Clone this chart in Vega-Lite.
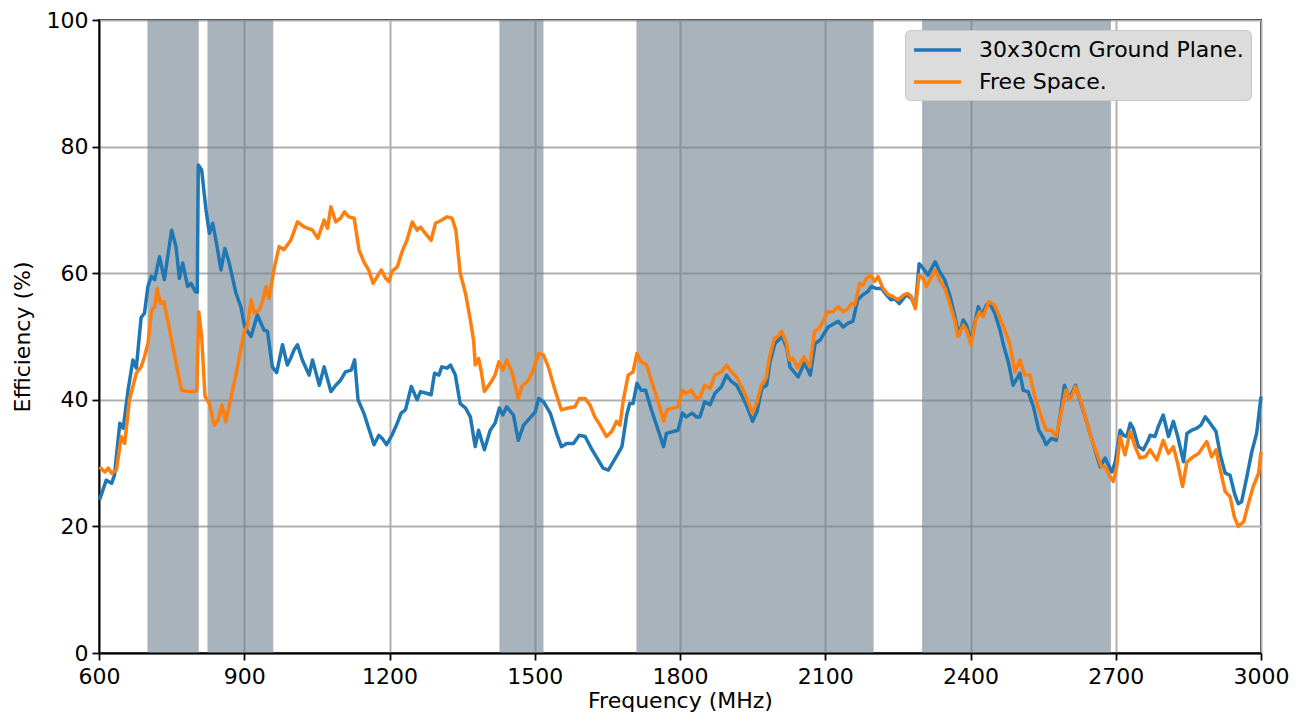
{
  "$schema": "https://vega.github.io/schema/vega-lite/v6.json",
  "width": 1162,
  "height": 633,
  "autosize": {"type": "none"},
  "padding": {"left": 99, "top": 20, "right": 38, "bottom": 69},
  "background": "white",
  "config": {
    "font": "DejaVu Sans",
    "view": {"stroke": "black", "strokeWidth": 1.8},
    "axis": {
      "labelFont": "DejaVu Sans", "labelFontSize": 22, "labelColor": "black", "labelFlush": false, "format": "d",
      "titleFont": "DejaVu Sans", "titleFontSize": 22, "titleFontWeight": "normal", "titleColor": "black",
      "tickColor": "black", "tickSize": 7, "tickWidth": 1.8,
      "domainColor": "black", "domainWidth": 1.8,
      "gridColor": "#b0b0b0", "gridWidth": 2, "gridOpacity": 1, "labelPadding": 4
    },
    "legend": {
      "orient": "top-right", "offset": 10, "padding": 7,
      "fillColor": "#dcdcdc", "strokeColor": "#c8c8c8", "cornerRadius": 5,
      "symbolType": "M-1,0H3.27", "symbolStrokeWidth": 3.5, "symbolSize": 484, "symbolFillColor": "transparent",
      "labelFont": "DejaVu Sans", "labelFontSize": 22, "labelColor": "black", "labelLimit": 500,
      "rowPadding": 8, "labelOffset": 41
    }
  },
  "datasets": {
    "bands": [
      {"lo": 700, "hi": 806},
      {"lo": 824, "hi": 960},
      {"lo": 1427, "hi": 1518},
      {"lo": 1710, "hi": 2200},
      {"lo": 2300, "hi": 2690}
    ],
    "eff": [
      {"s":"G","f":601,"e":24.2},{"s":"G","f":615,"e":27.3},{"s":"G","f":626,"e":26.8},{"s":"G","f":632,"e":28.1},{"s":"G","f":643,"e":36.3},{"s":"G","f":650,"e":35.5},{"s":"G","f":660,"e":41.5},{"s":"G","f":670,"e":46.3},{"s":"G","f":677,"e":45},{"s":"G","f":687,"e":53},{"s":"G","f":694,"e":53.7},{"s":"G","f":701,"e":57.9},{"s":"G","f":708,"e":59.5},{"s":"G","f":715,"e":59},{"s":"G","f":725,"e":62.6},{"s":"G","f":735,"e":59},{"s":"G","f":750,"e":66.8},{"s":"G","f":759,"e":64.2},{"s":"G","f":766,"e":59.2},{"s":"G","f":773,"e":61.6},{"s":"G","f":783,"e":57.9},{"s":"G","f":790,"e":58.4},{"s":"G","f":799,"e":57.1},{"s":"G","f":803,"e":57},{"s":"G","f":805,"e":77.1},{"s":"G","f":812,"e":76.3},{"s":"G","f":821,"e":70},{"s":"G","f":828,"e":66.3},{"s":"G","f":835,"e":67.9},{"s":"G","f":845,"e":63.7},{"s":"G","f":852,"e":60.5},{"s":"G","f":860,"e":63.9},{"s":"G","f":869,"e":61.6},{"s":"G","f":883,"e":56.8},{"s":"G","f":893,"e":54.7},{"s":"G","f":901,"e":51.5},{"s":"G","f":914,"e":50},{"s":"G","f":927,"e":53.4},{"s":"G","f":941,"e":51},{"s":"G","f":948,"e":50.8},{"s":"G","f":958,"e":45.2},{"s":"G","f":967,"e":44.3},{"s":"G","f":979,"e":48.7},{"s":"G","f":989,"e":45.5},{"s":"G","f":996,"e":46.6},{"s":"G","f":1003,"e":47.9},{"s":"G","f":1010,"e":48.7},{"s":"G","f":1020,"e":46.3},{"s":"G","f":1034,"e":43.9},{"s":"G","f":1041,"e":46.3},{"s":"G","f":1055,"e":42.3},{"s":"G","f":1065,"e":45.2},{"s":"G","f":1079,"e":41.3},{"s":"G","f":1089,"e":42.3},{"s":"G","f":1099,"e":43.1},{"s":"G","f":1109,"e":44.4},{"s":"G","f":1121,"e":44.7},{"s":"G","f":1128,"e":46.3},{"s":"G","f":1135,"e":40},{"s":"G","f":1147,"e":37.9},{"s":"G","f":1157,"e":35.5},{"s":"G","f":1168,"e":32.9},{"s":"G","f":1178,"e":34.4},{"s":"G","f":1185,"e":33.9},{"s":"G","f":1194,"e":32.9},{"s":"G","f":1205,"e":34.4},{"s":"G","f":1216,"e":36.3},{"s":"G","f":1224,"e":37.9},{"s":"G","f":1233,"e":38.4},{"s":"G","f":1245,"e":42.1},{"s":"G","f":1257,"e":40},{"s":"G","f":1264,"e":41.3},{"s":"G","f":1278,"e":41},{"s":"G","f":1286,"e":40.8},{"s":"G","f":1293,"e":44.2},{"s":"G","f":1302,"e":43.9},{"s":"G","f":1308,"e":45.2},{"s":"G","f":1319,"e":45},{"s":"G","f":1326,"e":45.5},{"s":"G","f":1336,"e":43.9},{"s":"G","f":1346,"e":39.4},{"s":"G","f":1357,"e":38.7},{"s":"G","f":1367,"e":37.3},{"s":"G","f":1377,"e":32.6},{"s":"G","f":1384,"e":35.2},{"s":"G","f":1396,"e":32.1},{"s":"G","f":1408,"e":35.2},{"s":"G","f":1418,"e":36.3},{"s":"G","f":1427,"e":38.7},{"s":"G","f":1434,"e":37.6},{"s":"G","f":1442,"e":38.9},{"s":"G","f":1456,"e":37.6},{"s":"G","f":1466,"e":33.6},{"s":"G","f":1477,"e":36},{"s":"G","f":1490,"e":37.1},{"s":"G","f":1501,"e":38.1},{"s":"G","f":1508,"e":40.2},{"s":"G","f":1518,"e":39.7},{"s":"G","f":1532,"e":37.9},{"s":"G","f":1545,"e":34.7},{"s":"G","f":1555,"e":32.6},{"s":"G","f":1566,"e":33.1},{"s":"G","f":1580,"e":33.1},{"s":"G","f":1592,"e":34.4},{"s":"G","f":1604,"e":34.2},{"s":"G","f":1617,"e":32.3},{"s":"G","f":1631,"e":30.5},{"s":"G","f":1641,"e":29.2},{"s":"G","f":1652,"e":28.9},{"s":"G","f":1662,"e":30.2},{"s":"G","f":1672,"e":31.5},{"s":"G","f":1680,"e":32.6},{"s":"G","f":1690,"e":37.6},{"s":"G","f":1696,"e":39.4},{"s":"G","f":1703,"e":39.4},{"s":"G","f":1711,"e":42.6},{"s":"G","f":1720,"e":41.5},{"s":"G","f":1729,"e":41.5},{"s":"G","f":1741,"e":38.4},{"s":"G","f":1755,"e":35.2},{"s":"G","f":1766,"e":32.6},{"s":"G","f":1772,"e":34.7},{"s":"G","f":1786,"e":35},{"s":"G","f":1796,"e":35.2},{"s":"G","f":1805,"e":37.9},{"s":"G","f":1813,"e":37.3},{"s":"G","f":1825,"e":37.9},{"s":"G","f":1834,"e":37.3},{"s":"G","f":1841,"e":37.3},{"s":"G","f":1851,"e":39.7},{"s":"G","f":1862,"e":39.2},{"s":"G","f":1872,"e":41},{"s":"G","f":1886,"e":42.1},{"s":"G","f":1896,"e":43.9},{"s":"G","f":1906,"e":42.9},{"s":"G","f":1917,"e":42.3},{"s":"G","f":1927,"e":40.8},{"s":"G","f":1937,"e":39.2},{"s":"G","f":1950,"e":36.6},{"s":"G","f":1959,"e":38.1},{"s":"G","f":1969,"e":41.8},{"s":"G","f":1979,"e":42.3},{"s":"G","f":1986,"e":46},{"s":"G","f":1996,"e":48.9},{"s":"G","f":2011,"e":50},{"s":"G","f":2021,"e":48.1},{"s":"G","f":2027,"e":45.2},{"s":"G","f":2044,"e":43.6},{"s":"G","f":2057,"e":45.8},{"s":"G","f":2069,"e":43.9},{"s":"G","f":2079,"e":48.9},{"s":"G","f":2089,"e":49.4},{"s":"G","f":2106,"e":51.5},{"s":"G","f":2127,"e":52.4},{"s":"G","f":2137,"e":51.5},{"s":"G","f":2147,"e":52.1},{"s":"G","f":2157,"e":52.4},{"s":"G","f":2167,"e":55.8},{"s":"G","f":2178,"e":56.6},{"s":"G","f":2188,"e":57.1},{"s":"G","f":2195,"e":57.9},{"s":"G","f":2205,"e":57.6},{"s":"G","f":2216,"e":57.6},{"s":"G","f":2226,"e":56.6},{"s":"G","f":2236,"e":55.8},{"s":"G","f":2243,"e":56},{"s":"G","f":2253,"e":55.2},{"s":"G","f":2268,"e":56.6},{"s":"G","f":2278,"e":56},{"s":"G","f":2286,"e":54.7},{"s":"G","f":2294,"e":61.5},{"s":"G","f":2302,"e":60.8},{"s":"G","f":2312,"e":59.7},{"s":"G","f":2327,"e":61.8},{"s":"G","f":2336,"e":60.3},{"s":"G","f":2347,"e":58.9},{"s":"G","f":2358,"e":56.3},{"s":"G","f":2368,"e":53.1},{"s":"G","f":2376,"e":50.2},{"s":"G","f":2385,"e":52.6},{"s":"G","f":2392,"e":51.8},{"s":"G","f":2401,"e":49.2},{"s":"G","f":2408,"e":51.8},{"s":"G","f":2416,"e":54.7},{"s":"G","f":2424,"e":53.4},{"s":"G","f":2433,"e":55},{"s":"G","f":2440,"e":55.2},{"s":"G","f":2450,"e":53.7},{"s":"G","f":2461,"e":51},{"s":"G","f":2468,"e":48.7},{"s":"G","f":2478,"e":46},{"s":"G","f":2488,"e":42.3},{"s":"G","f":2502,"e":44.2},{"s":"G","f":2509,"e":41.5},{"s":"G","f":2519,"e":41.3},{"s":"G","f":2530,"e":38.9},{"s":"G","f":2541,"e":35.2},{"s":"G","f":2551,"e":33.9},{"s":"G","f":2556,"e":32.9},{"s":"G","f":2567,"e":33.9},{"s":"G","f":2577,"e":33.6},{"s":"G","f":2586,"e":37.9},{"s":"G","f":2594,"e":42.3},{"s":"G","f":2604,"e":40.2},{"s":"G","f":2617,"e":42.3},{"s":"G","f":2627,"e":39.7},{"s":"G","f":2637,"e":37.3},{"s":"G","f":2651,"e":33.6},{"s":"G","f":2657,"e":32.1},{"s":"G","f":2668,"e":29.4},{"s":"G","f":2678,"e":30.8},{"s":"G","f":2692,"e":28.6},{"s":"G","f":2699,"e":30.2},{"s":"G","f":2709,"e":35.2},{"s":"G","f":2716,"e":34.4},{"s":"G","f":2723,"e":34.2},{"s":"G","f":2730,"e":36.3},{"s":"G","f":2736,"e":35.5},{"s":"G","f":2747,"e":32.6},{"s":"G","f":2757,"e":32.1},{"s":"G","f":2767,"e":33.6},{"s":"G","f":2771,"e":34.4},{"s":"G","f":2781,"e":34.2},{"s":"G","f":2788,"e":35.8},{"s":"G","f":2798,"e":37.6},{"s":"G","f":2809,"e":34.2},{"s":"G","f":2819,"e":36.6},{"s":"G","f":2828,"e":34.2},{"s":"G","f":2840,"e":30.2},{"s":"G","f":2847,"e":34.7},{"s":"G","f":2857,"e":35.2},{"s":"G","f":2867,"e":35.5},{"s":"G","f":2876,"e":36},{"s":"G","f":2885,"e":37.3},{"s":"G","f":2895,"e":36.3},{"s":"G","f":2907,"e":35},{"s":"G","f":2916,"e":31.3},{"s":"G","f":2926,"e":28.4},{"s":"G","f":2936,"e":28.1},{"s":"G","f":2946,"e":25},{"s":"G","f":2953,"e":23.6},{"s":"G","f":2960,"e":23.9},{"s":"G","f":2971,"e":27.9},{"s":"G","f":2981,"e":31.8},{"s":"G","f":2991,"e":34.7},{"s":"G","f":3000,"e":40.5},
      {"s":"F","f":601,"e":29.4},{"s":"F","f":612,"e":28.6},{"s":"F","f":619,"e":29.2},{"s":"F","f":626,"e":28.4},{"s":"F","f":636,"e":28.9},{"s":"F","f":646,"e":34.2},{"s":"F","f":653,"e":33.1},{"s":"F","f":663,"e":40},{"s":"F","f":677,"e":44.2},{"s":"F","f":687,"e":45.2},{"s":"F","f":694,"e":46.8},{"s":"F","f":701,"e":48.9},{"s":"F","f":709,"e":54.2},{"s":"F","f":715,"e":54.7},{"s":"F","f":720,"e":57.6},{"s":"F","f":727,"e":55.2},{"s":"F","f":734,"e":55.5},{"s":"F","f":746,"e":51},{"s":"F","f":759,"e":45.8},{"s":"F","f":771,"e":41.5},{"s":"F","f":783,"e":41.3},{"s":"F","f":797,"e":41.3},{"s":"F","f":802,"e":41.5},{"s":"F","f":806,"e":53.9},{"s":"F","f":812,"e":50},{"s":"F","f":819,"e":40.5},{"s":"F","f":828,"e":39.4},{"s":"F","f":838,"e":36},{"s":"F","f":846,"e":36.8},{"s":"F","f":854,"e":39.2},{"s":"F","f":862,"e":36.5},{"s":"F","f":873,"e":40.5},{"s":"F","f":886,"e":45.2},{"s":"F","f":899,"e":50.5},{"s":"F","f":907,"e":51.8},{"s":"F","f":914,"e":55.8},{"s":"F","f":921,"e":53.7},{"s":"F","f":931,"e":54.2},{"s":"F","f":938,"e":55.5},{"s":"F","f":945,"e":57.9},{"s":"F","f":951,"e":56},{"s":"F","f":962,"e":60.8},{"s":"F","f":972,"e":64.2},{"s":"F","f":982,"e":63.7},{"s":"F","f":996,"e":65.2},{"s":"F","f":1010,"e":68.1},{"s":"F","f":1024,"e":67.3},{"s":"F","f":1041,"e":66.8},{"s":"F","f":1052,"e":65.5},{"s":"F","f":1065,"e":68.4},{"s":"F","f":1072,"e":67.1},{"s":"F","f":1079,"e":70.5},{"s":"F","f":1089,"e":68.1},{"s":"F","f":1099,"e":68.7},{"s":"F","f":1107,"e":69.7},{"s":"F","f":1116,"e":68.9},{"s":"F","f":1127,"e":68.7},{"s":"F","f":1137,"e":63.7},{"s":"F","f":1147,"e":61.8},{"s":"F","f":1157,"e":60.5},{"s":"F","f":1166,"e":58.4},{"s":"F","f":1175,"e":59.5},{"s":"F","f":1183,"e":60.5},{"s":"F","f":1192,"e":59.2},{"s":"F","f":1199,"e":58.7},{"s":"F","f":1205,"e":60.3},{"s":"F","f":1216,"e":61},{"s":"F","f":1226,"e":63.4},{"s":"F","f":1236,"e":65.2},{"s":"F","f":1247,"e":68.1},{"s":"F","f":1257,"e":66.8},{"s":"F","f":1264,"e":67.3},{"s":"F","f":1274,"e":66.3},{"s":"F","f":1286,"e":65.2},{"s":"F","f":1295,"e":67.9},{"s":"F","f":1308,"e":68.4},{"s":"F","f":1319,"e":68.9},{"s":"F","f":1329,"e":68.7},{"s":"F","f":1337,"e":66.8},{"s":"F","f":1346,"e":60},{"s":"F","f":1357,"e":56.8},{"s":"F","f":1367,"e":52.6},{"s":"F","f":1374,"e":49.2},{"s":"F","f":1377,"e":45.5},{"s":"F","f":1384,"e":46.5},{"s":"F","f":1389,"e":44.7},{"s":"F","f":1396,"e":41.3},{"s":"F","f":1408,"e":42.6},{"s":"F","f":1418,"e":43.9},{"s":"F","f":1426,"e":46},{"s":"F","f":1434,"e":44.7},{"s":"F","f":1442,"e":46.3},{"s":"F","f":1453,"e":44.4},{"s":"F","f":1466,"e":40.2},{"s":"F","f":1473,"e":42.1},{"s":"F","f":1487,"e":43.1},{"s":"F","f":1497,"e":44.7},{"s":"F","f":1508,"e":47.3},{"s":"F","f":1518,"e":47.1},{"s":"F","f":1528,"e":45.2},{"s":"F","f":1542,"e":41.5},{"s":"F","f":1555,"e":38.4},{"s":"F","f":1569,"e":38.7},{"s":"F","f":1583,"e":38.9},{"s":"F","f":1592,"e":40.2},{"s":"F","f":1604,"e":40.2},{"s":"F","f":1614,"e":39.2},{"s":"F","f":1624,"e":37.3},{"s":"F","f":1635,"e":36},{"s":"F","f":1648,"e":34.2},{"s":"F","f":1659,"e":35},{"s":"F","f":1669,"e":36.6},{"s":"F","f":1676,"e":36},{"s":"F","f":1683,"e":40},{"s":"F","f":1693,"e":43.9},{"s":"F","f":1703,"e":44.4},{"s":"F","f":1711,"e":47.3},{"s":"F","f":1720,"e":46},{"s":"F","f":1731,"e":45.5},{"s":"F","f":1744,"e":42.3},{"s":"F","f":1758,"e":38.9},{"s":"F","f":1766,"e":36.6},{"s":"F","f":1773,"e":38.4},{"s":"F","f":1786,"e":38.7},{"s":"F","f":1796,"e":38.9},{"s":"F","f":1805,"e":41.5},{"s":"F","f":1813,"e":41},{"s":"F","f":1823,"e":41.5},{"s":"F","f":1834,"e":40.2},{"s":"F","f":1842,"e":40.5},{"s":"F","f":1851,"e":42.3},{"s":"F","f":1862,"e":41.8},{"s":"F","f":1872,"e":43.9},{"s":"F","f":1886,"e":44.4},{"s":"F","f":1896,"e":45.5},{"s":"F","f":1906,"e":44.4},{"s":"F","f":1917,"e":43.6},{"s":"F","f":1927,"e":42.1},{"s":"F","f":1937,"e":40.5},{"s":"F","f":1949,"e":37.9},{"s":"F","f":1958,"e":39.4},{"s":"F","f":1968,"e":42.3},{"s":"F","f":1978,"e":43.4},{"s":"F","f":1985,"e":46.8},{"s":"F","f":1995,"e":49.7},{"s":"F","f":2002,"e":50},{"s":"F","f":2010,"e":50.8},{"s":"F","f":2020,"e":48.9},{"s":"F","f":2026,"e":46.3},{"s":"F","f":2033,"e":46.6},{"s":"F","f":2043,"e":45},{"s":"F","f":2056,"e":46.8},{"s":"F","f":2068,"e":45.2},{"s":"F","f":2078,"e":50.8},{"s":"F","f":2088,"e":51.3},{"s":"F","f":2098,"e":52.9},{"s":"F","f":2105,"e":53.9},{"s":"F","f":2116,"e":53.9},{"s":"F","f":2127,"e":54.7},{"s":"F","f":2137,"e":53.9},{"s":"F","f":2147,"e":54.4},{"s":"F","f":2154,"e":55.2},{"s":"F","f":2161,"e":55},{"s":"F","f":2171,"e":58.4},{"s":"F","f":2178,"e":58.1},{"s":"F","f":2185,"e":59.2},{"s":"F","f":2194,"e":59.7},{"s":"F","f":2202,"e":58.7},{"s":"F","f":2209,"e":59.5},{"s":"F","f":2219,"e":57.6},{"s":"F","f":2230,"e":56.6},{"s":"F","f":2240,"e":56.3},{"s":"F","f":2250,"e":55.8},{"s":"F","f":2263,"e":56.6},{"s":"F","f":2270,"e":56.8},{"s":"F","f":2278,"e":56.3},{"s":"F","f":2286,"e":54.4},{"s":"F","f":2294,"e":59.7},{"s":"F","f":2302,"e":59.2},{"s":"F","f":2309,"e":57.9},{"s":"F","f":2327,"e":60.5},{"s":"F","f":2336,"e":58.9},{"s":"F","f":2347,"e":57.6},{"s":"F","f":2358,"e":55},{"s":"F","f":2368,"e":52.4},{"s":"F","f":2374,"e":50},{"s":"F","f":2385,"e":51.8},{"s":"F","f":2392,"e":51},{"s":"F","f":2401,"e":48.7},{"s":"F","f":2411,"e":52.6},{"s":"F","f":2419,"e":53.9},{"s":"F","f":2426,"e":53.1},{"s":"F","f":2438,"e":55.5},{"s":"F","f":2450,"e":55},{"s":"F","f":2461,"e":52.9},{"s":"F","f":2471,"e":51},{"s":"F","f":2481,"e":48.9},{"s":"F","f":2492,"e":44.4},{"s":"F","f":2502,"e":46.3},{"s":"F","f":2512,"e":43.9},{"s":"F","f":2523,"e":43.9},{"s":"F","f":2533,"e":40.5},{"s":"F","f":2547,"e":37.1},{"s":"F","f":2557,"e":35.2},{"s":"F","f":2567,"e":35.2},{"s":"F","f":2577,"e":34.2},{"s":"F","f":2587,"e":37.9},{"s":"F","f":2597,"e":41.5},{"s":"F","f":2606,"e":40},{"s":"F","f":2617,"e":42.1},{"s":"F","f":2627,"e":40},{"s":"F","f":2637,"e":37.3},{"s":"F","f":2651,"e":33.6},{"s":"F","f":2661,"e":31.5},{"s":"F","f":2670,"e":29.5},{"s":"F","f":2678,"e":29.4},{"s":"F","f":2688,"e":27.9},{"s":"F","f":2695,"e":27.1},{"s":"F","f":2702,"e":29.4},{"s":"F","f":2709,"e":34.2},{"s":"F","f":2719,"e":31.3},{"s":"F","f":2730,"e":35},{"s":"F","f":2740,"e":32.6},{"s":"F","f":2750,"e":30.8},{"s":"F","f":2761,"e":31},{"s":"F","f":2771,"e":32.1},{"s":"F","f":2785,"e":30.5},{"s":"F","f":2798,"e":33.6},{"s":"F","f":2809,"e":31.5},{"s":"F","f":2819,"e":32.6},{"s":"F","f":2828,"e":29.9},{"s":"F","f":2838,"e":26.3},{"s":"F","f":2847,"e":30.2},{"s":"F","f":2860,"e":31},{"s":"F","f":2871,"e":31.5},{"s":"F","f":2878,"e":32.3},{"s":"F","f":2888,"e":33.4},{"s":"F","f":2898,"e":31},{"s":"F","f":2907,"e":32.1},{"s":"F","f":2916,"e":28.9},{"s":"F","f":2926,"e":25.5},{"s":"F","f":2936,"e":24.7},{"s":"F","f":2945,"e":21.5},{"s":"F","f":2953,"e":20},{"s":"F","f":2964,"e":20.7},{"s":"F","f":2974,"e":23.6},{"s":"F","f":2984,"e":26.3},{"s":"F","f":2995,"e":28.4},{"s":"F","f":3000,"e":31.8}
    ]
  },
  "layer": [
    {
      "data": {"name": "bands"},
      "mark": {"type": "rect", "color": "#708090", "opacity": 0.6},
      "encoding": {
        "x": {"field": "lo", "type": "quantitative", "scale": {"domain": [600, 3000], "nice": false, "zero": false},
              "axis": {"values": [600, 900, 1200, 1500, 1800, 2100, 2400, 2700, 3000], "title": "Frequency (MHz)", "titlePadding": 3, "labelPadding": 6}},
        "x2": {"field": "hi"}
      }
    },
    {
      "data": {"name": "eff"},
      "mark": {"type": "line", "strokeWidth": 3.5, "strokeJoin": "round"},
      "encoding": {
        "x": {"field": "f", "type": "quantitative", "scale": {"domain": [600, 3000], "nice": false, "zero": false},
              "axis": {"values": [600, 900, 1200, 1500, 1800, 2100, 2400, 2700, 3000], "title": "Frequency (MHz)", "titlePadding": 3, "labelPadding": 6}},
        "y": {"field": "e", "type": "quantitative", "scale": {"domain": [0, 100], "nice": false},
              "axis": {"values": [0, 20, 40, 60, 80, 100], "title": "Efficiency (%)", "titlePadding": 12}},
        "color": {"field": "s", "type": "nominal", "sort": ["G", "F"],
                  "scale": {"domain": ["G", "F"], "range": ["#1f77b4", "#ff7f0e"]},
                  "legend": {"title": null, "labelExpr": "datum.label == 'G' ? '30x30cm Ground Plane.' : 'Free Space.'"}}
      }
    }
  ]
}
